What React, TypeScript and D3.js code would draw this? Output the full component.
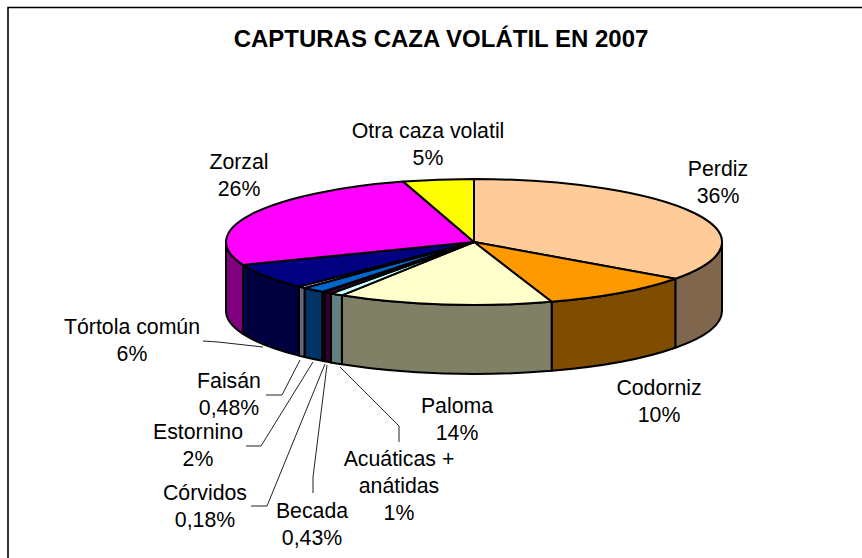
import React from "react";
import * as d3 from "d3";

const categories = ["Perdiz","Codorniz","Paloma","Acuáticas + anátidas","Becada","Córvidos","Estornino","Faisán","Tórtola común","Zorzal","Otra caza volatil"];
const shares = [34.9,10,14,0.85,0.5,0.18,1.5,0.5,6.6,26.3,4.6];
const topColors = ["#FFCC99","#FF9900","#FFFFCC","#CCFFFF","#660066","#FF8080","#0066CC","#CCCCFF","#000080","#FF00FF","#FFFF00"];
const labelLines = [["Perdiz","36%"],["Codorniz","10%"],["Paloma","14%"],["Acuáticas +","anátidas","1%"],["Becada","0,43%"],["Córvidos","0,18%"],["Estornino","2%"],["Faisán","0,48%"],["Tórtola común","6%"],["Zorzal","26%"],["Otra caza volatil","5%"]];
const labelCenters: [number,number][] = [[718,182],[659,401],[457,419],[399,486],[312,524],[205,506],[198,445],[229,394],[132,340],[239,175],[428,144]];
const leaders: ([number,number][])[] = [
  [],[],[],
  [[340,367],[399,426],[399,442]],
  [[327,365],[313,477],[313,493]],
  [[325,364],[267,506],[251,506]],
  [[313,362],[261,446],[246,446]],
  [[300,360],[282,395],[266,395]],
  [[263,347],[218,342],[203,341]],
  [],[],
];

const cx = 474, cy = 242, rx = 248, ry = 63, depth = 69;
const W = 862, H = 558;
const lineHeight = 27;

const pt = (a: number, dy = 0) => [cx + rx * Math.sin(a), cy - ry * Math.cos(a) + dy];
const arcTo = (a0: number, a1: number, dy: number) => {
  const [x, y] = pt(a1, dy);
  const sweep = a1 > a0 ? 1 : 0;
  const large = Math.abs(a1 - a0) > Math.PI ? 1 : 0;
  return `A${rx},${ry} 0 ${large} ${sweep} ${x},${y}`;
};

export default function App() {
  const slices = d3.pie<number>().sort(null).value(d => d)(shares);
  const lineGen = d3.line();
  return (
    <svg width={W} height={H} style={{ position: "absolute", left: 0, top: 0, background: "#fff" }} fontFamily="'Liberation Sans', Arial, sans-serif">
      <path d={`M8,${H}V7.5H${W}`} fill="none" stroke="#000" strokeWidth={1.6} />
      <text x={441} y={47} textAnchor="middle" fontSize={24} fontWeight="bold" fill="#000">CAPTURAS CAZA VOLÁTIL EN 2007</text>
      {slices.map((s, i) => {
        const a0 = Math.max(s.startAngle, Math.PI / 2);
        const a1 = Math.min(s.endAngle, Math.PI * 1.5);
        if (a1 <= a0) return null;
        const [x0, y0] = pt(a0);
        const [x1, y1] = pt(a1, depth);
        const side = d3.rgb(topColors[i]);
        const c = d3.rgb(side.r / 2, side.g / 2, side.b / 2);
        return <path key={"s" + i} d={`M${x0},${y0}${arcTo(a0, a1, 0)}L${x1},${y1}${arcTo(a1, a0, depth)}Z`} fill={c.formatHex()} stroke="#000" strokeWidth={2} strokeLinejoin="round" />;
      })}
      {slices.map((s, i) => {
        const [x0, y0] = pt(s.startAngle);
        return <path key={"t" + i} d={`M${cx},${cy}L${x0},${y0}${arcTo(s.startAngle, s.endAngle, 0)}Z`} fill={topColors[i]} stroke="#000" strokeWidth={2} strokeLinejoin="round" />;
      })}
      {leaders.map((l, i) => l.length ? <path key={"l" + i} d={lineGen(l)!} fill="none" stroke="#222" strokeWidth={1} /> : null)}
      {categories.map((c, i) => (
        <text key={c} textAnchor="middle" fontSize={21.3} fill="#000">
          {labelLines[i].map((t, j) => (
            <tspan key={j} x={labelCenters[i][0]} y={labelCenters[i][1] + j * lineHeight - (labelLines[i].length - 1) * lineHeight / 2 + 7}>{t}</tspan>
          ))}
        </text>
      ))}
    </svg>
  );
}
